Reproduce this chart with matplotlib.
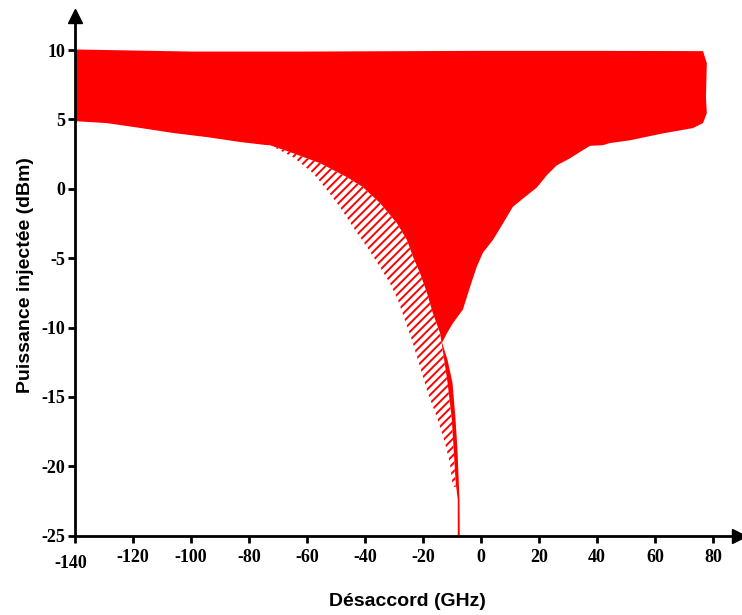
import numpy as np
import matplotlib
matplotlib.use('Agg')
import matplotlib.pyplot as plt
from matplotlib.transforms import ScaledTranslation

# detuning (GHz) / injected power (dBm) outlines
# solid zone, clockwise from the top left corner
solid_x = [-140, -100, -60, 0, 40, 76.6, 77.9, 77.6, 77.9, 76.6, 73.1,
           62.8, 51.4, 44.5, 42.1, 37.6, 34.1, 30.7, 26.2, 22.8, 19.3, 14.5,
           11.0, 7.6, 4.1, 0.7, -1.4, -3.8, -6.2, -9.7, -11.7, -13.4,
           -11.5, -9.8, -8.8, -8.1, -7.4, -7.3,
           -8.0, -8.0, -8.7, -9.4, -10.1, -11.5, -13.2, -14.1,
           -16.6, -18.6, -21.0, -23.4, -25.5, -29.0, -34.8, -40.7, -46.2,
           -55.5, -64.8, -72.8, -73.8, -82.8, -94.5, -105.9, -117.2, -129, -140]
solid_y = [10.05, 9.9, 9.9, 9.95, 9.95, 9.93, 9.06, 6.6, 5.46, 4.74, 4.38,
           4.0, 3.5, 3.3, 3.15, 3.1, 2.65, 2.2, 1.7, 1.0, 0.1, -0.7,
           -1.3, -2.5, -3.7, -4.6, -5.6, -7.1, -8.7, -9.7, -10.4, -11.1,
           -12.35, -14.0, -16.5, -18.8, -22.4, -25.0,
           -25.0, -22.4, -21.2, -18.8, -16.5, -14.0, -11.6, -10.4,
           -8.96, -7.52, -6.08, -4.92, -3.70, -2.47, -1.03, 0.12, 0.84,
           1.85, 2.57, 3.15, 3.15, 3.37, 3.73, 4.02, 4.38, 4.74, 4.88]

# hatched zone: left edge of the solid zone, then the outer edge back up
hatch_x = [-72.8, -64.8, -55.5, -46.2, -40.7, -34.8, -29.0, -25.5, -23.4,
           -21.0, -18.6, -16.6, -14.1, -13.2, -11.5, -10.1, -9.4, -8.7,
           -9.7, -10.7, -12.4, -15.2, -18.3, -21.0, -23.8, -26.6, -28.6,
           -31.4, -34.8, -39.3, -44.1, -48.6, -53.1, -57.9, -64.8, -72.8]
hatch_y = [3.15, 2.57, 1.85, 0.84, 0.12, -1.03, -2.47, -3.70, -4.92,
           -6.08, -7.52, -8.96, -10.4, -11.6, -14.0, -16.5, -18.8, -21.5,
           -21.5, -19.78, -18.33, -16.46, -14.73, -12.86, -10.91, -9.25, -8.02,
           -6.80, -5.65, -4.20, -2.76, -1.32, -0.09, 1.13, 2.29, 3.15]

xticks = np.arange(-140, 81, 20)
yticks = np.arange(-25, 11, 5)

plt.rcParams['hatch.linewidth'] = 1.4
plt.rcParams['axes.unicode_minus'] = False
fig = plt.figure(figsize=(7.42, 6.15), dpi=100)
ax = fig.add_axes([75/742, 79.5/615, 664/742, 520/615])

ax.fill(solid_x, solid_y, color='#ff0000', lw=0)
ax.fill(hatch_x, hatch_y, facecolor='none', edgecolor='#ff0000', hatch='////', lw=0)

ax.set_xlim(-140, 89)
ax.set_ylim(-25, 12.5)
ax.set_xticks(xticks)
ax.set_yticks(yticks)
for s in ['top', 'right']:
    ax.spines[s].set_visible(False)
for s in ['left', 'bottom']:
    ax.spines[s].set_linewidth(2)
ax.tick_params(width=2, length=5, direction='out', labelsize=13)
ax.tick_params(axis='x', pad=5)
ax.tick_params(axis='y', pad=2)
for lab in ax.get_xticklabels() + ax.get_yticklabels():
    lab.set_fontfamily('Liberation Serif')
    lab.set_fontweight('bold')

# the -140 label sits a bit lower than the others
lab0 = ax.get_xticklabels()[0]
lab0.set_transform(lab0.get_transform() + ScaledTranslation(-3/72, -4/72, fig.dpi_scale_trans))

# arrow heads on the axes
ax.plot(0, 1, marker='^', color='k', ms=10, transform=ax.transAxes, clip_on=False)
ax.plot(1, 0, marker='>', color='k', ms=10, transform=ax.transAxes, clip_on=False)

ax.set_xlabel('Désaccord (GHz)', fontsize=14, fontweight='bold',
              fontfamily='Liberation Sans', labelpad=15)
ax.set_ylabel('Puissance injectée (dBm)', fontsize=14, fontweight='bold',
              fontfamily='Liberation Sans', labelpad=5)

fig.savefig('out.png', dpi=100)
